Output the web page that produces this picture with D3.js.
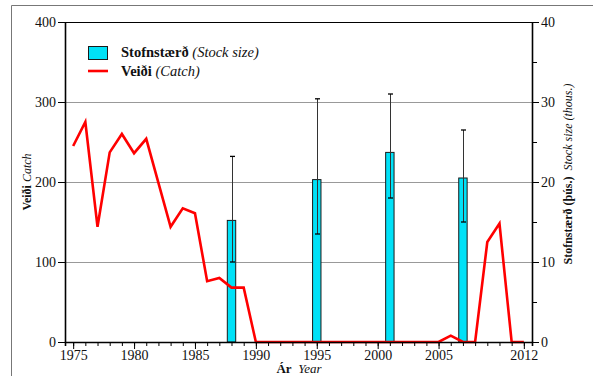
<!DOCTYPE html>
<html>
<head>
<meta charset="utf-8">
<script src="https://cdn.jsdelivr.net/npm/d3@7"></script>
<style>
  html, body { margin: 0; padding: 0; background: #fff; }
  svg { display: block; }
</style>
</head>
<body>
<svg id="chart" width="593" height="376"></svg>
<script>
// Catch per year (left axis)
const catchYears = [1975,1976,1977,1978,1979,1980,1981,1982,1983,1984,1985,1986,1987,1988,1989,1990,
  1991,1992,1993,1994,1995,1996,1997,1998,1999,2000,2001,2002,2003,2004,2005,2006,2007,2008,2009,2010,2011,2012];
const catchValues = [245,275,144,237,260,236,254,199,144,167,161,76,80,68,68,0,
  0,0,0,0,0,0,0,0,0,0,0,0,0,0,0,8,0,0,125,148,0,0];

// Stock size surveys (right axis, thousands) with error ranges
const stockYears = [1988,1995,2001,2007];
const stockValues = [15.2,20.3,23.7,20.5];
const stockLow = [10.0,13.5,18.0,15.0];
const stockHigh = [23.2,30.4,31.0,26.5];

const leftTicks = [0,100,200,300,400];
const rightMajorTicks = [0,10,20,30,40];
const rightMinorTicks = [5,15,25,35];
const xLabelTicks = [1975,1980,1985,1990,1995,2000,2005,2012];
const xMinorTicks = d3.range(1975, 2013);

const FONT = "Liberation Serif";

const svg = d3.select("#chart");
const m = {left: 65, right: 532, top: 22, bottom: 342};

const x = d3.scaleLinear().domain([1974.33, 2012.67]).range([m.left, m.right]);
const yL = d3.scaleLinear().domain([0, 400]).range([m.bottom, m.top]);
const yR = d3.scaleLinear().domain([0, 40]).range([m.bottom, m.top]);

// outer frame
svg.append("path").attr("d", "M11.5,376 V5.5 H593")
  .attr("fill", "none").attr("stroke", "#777").attr("stroke-width", 1);

// gridlines
svg.append("g").selectAll("line").data([100,200,300]).join("line")
  .attr("x1", m.left).attr("x2", m.right)
  .attr("y1", d => Math.round(yL(d)) + 0.5).attr("y2", d => Math.round(yL(d)) + 0.5)
  .attr("stroke", "#999").attr("stroke-width", 1);

// top border of plot area
svg.append("line").attr("x1", m.left).attr("x2", m.right)
  .attr("y1", m.top + 0.5).attr("y2", m.top + 0.5).attr("stroke", "#000");

// stock bars
const bw = 8.4;
svg.append("g").selectAll("rect").data(stockYears).join("rect")
  .attr("x", d => x(d) - bw / 2)
  .attr("width", bw)
  .attr("y", (d, i) => yR(stockValues[i]))
  .attr("height", (d, i) => yR(0) - yR(stockValues[i]))
  .attr("fill", "#00e1f7").attr("stroke", "#1a1a1a").attr("stroke-width", 1);

// error bars
const eb = svg.append("g").attr("stroke", "#333").attr("stroke-width", 1);
stockYears.forEach((yr, i) => {
  const cx = Math.round(x(yr)) + 0.5;
  eb.append("line").attr("x1", cx).attr("x2", cx)
    .attr("y1", yR(stockHigh[i])).attr("y2", yR(stockLow[i]));
  [stockHigh[i], stockLow[i]].forEach(v => {
    eb.append("line").attr("x1", cx - 2.5).attr("x2", cx + 2.5)
      .attr("y1", yR(v)).attr("y2", yR(v)).attr("stroke", "#000").attr("stroke-width", 1.3);
  });
});

// catch line
const line = d3.line().x((d, i) => x(catchYears[i])).y(d => yL(d));
svg.append("path").datum(catchValues)
  .attr("d", line).attr("fill", "none")
  .attr("stroke", "#ff0000").attr("stroke-width", 2.6).attr("stroke-linejoin", "miter");

// axes
const axisStyle = g => {
  g.attr("font-family", null).attr("font-size", null);
  g.selectAll("text").style("font-family", FONT).style("font-size", "14px").attr("fill", "#111");
  g.selectAll("line,path").attr("stroke", "#000");
};

svg.append("g").attr("transform", `translate(0,${m.bottom})`)
  .call(d3.axisBottom(x).tickValues(xMinorTicks).tickSize(4).tickFormat(""))
  .call(axisStyle)
  .call(g => g.selectAll("text").remove())
  .call(g => g.select(".domain").attr("stroke-width", 1.6));
svg.append("g").attr("transform", `translate(0,${m.bottom})`)
  .call(d3.axisBottom(x).tickValues(xLabelTicks).tickSize(7).tickPadding(1).tickFormat(d3.format("d")))
  .call(g => g.select(".domain").remove())
  .call(axisStyle);

svg.append("g").attr("transform", `translate(${m.left},0)`)
  .call(d3.axisLeft(yL).tickValues(leftTicks).tickSize(7).tickPadding(2).tickSizeOuter(0))
  .call(axisStyle)
  .call(g => g.select(".domain").attr("stroke-width", 1.6));

svg.append("g").attr("transform", `translate(${m.right},0)`)
  .call(d3.axisRight(yR).tickValues(rightMinorTicks).tickSize(5).tickFormat("").tickSizeOuter(0))
  .call(axisStyle)
  .call(g => g.selectAll("text").remove())
  .call(g => g.select(".domain").attr("stroke-width", 1.6));
svg.append("g").attr("transform", `translate(${m.right},0)`)
  .call(d3.axisRight(yR).tickValues(rightMajorTicks).tickSize(7).tickPadding(2).tickSizeOuter(0))
  .call(g => g.select(".domain").remove())
  .call(axisStyle);

// helper for mixed bold / italic titles
function label(parent, parts, size) {
  const t = parent.append("text").style("font-family", FONT).style("font-size", size + "px").attr("fill", "#111");
  parts.forEach(([txt, kind]) => {
    const s = t.append("tspan").style("font-family", FONT).text(txt);
    if (kind === "b") s.style("font-weight", "bold");
    if (kind === "i") s.style("font-style", "italic");
  });
  return t;
}

// axis titles
label(svg, [["Veiði", "b"], ["\u00a0Catch", "i"]], 12)
  .attr("transform", `translate(31,${(m.top + m.bottom) / 2}) rotate(-90)`)
  .attr("text-anchor", "middle");

label(svg, [["Stofnstærð (þús.)", "b"], ["\u00a0\u00a0Stock size (thous.)", "i"]], 12)
  .attr("transform", `translate(572,174) rotate(-90)`)
  .attr("text-anchor", "middle");

label(svg, [["Ár", "b"], ["\u00a0\u00a0Year", "i"]], 13)
  .attr("x", 299).attr("y", 373).attr("text-anchor", "middle");

// legend
const lg = svg.append("g");
lg.append("rect").attr("x", 88.5).attr("y", 46.5).attr("width", 19).attr("height", 13)
  .attr("fill", "#00e1f7").attr("stroke", "#1a1a1a");
label(lg, [["Stofnstærð", "b"], ["\u00a0(Stock size)", "i"]], 14.5).attr("x", 121).attr("y", 57);
lg.append("line").attr("x1", 88).attr("x2", 108).attr("y1", 71).attr("y2", 71)
  .attr("stroke", "#ff0000").attr("stroke-width", 2.6);
label(lg, [["Veiði", "b"], ["\u00a0(Catch)", "i"]], 14.5).attr("x", 121).attr("y", 76);
</script>
</body>
</html>
